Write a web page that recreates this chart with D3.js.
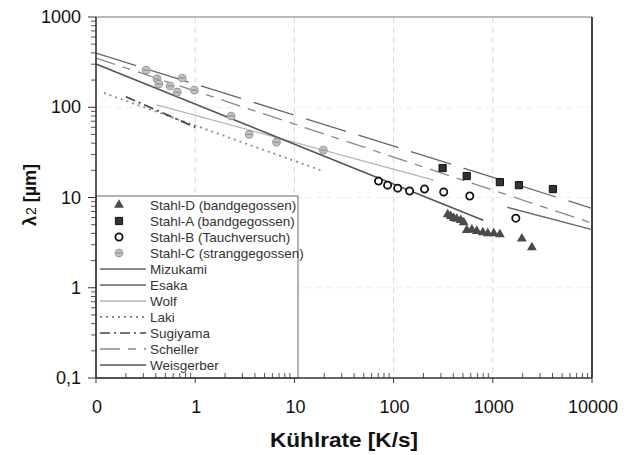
<!DOCTYPE html>
<html>
<head>
    <title>Kühlrate vs. Dendritenarmabstand</title>
    <script src="https://d3js.org/d3.v7.min.js"></script>
    <style>
        body, html {
            margin: 0;
            padding: 0;
            background: white;
            overflow: hidden;
        }
        svg {
            font-family: "Liberation Sans", Arial, sans-serif;
        }
        .tick-label {
            font-size: 18px;
            fill: #111;
        }
        .legend-text {
            font-size: 13.5px;
            fill: #333;
        }
    </style>
</head>
<body>
    <svg id="chart" width="633" height="455"></svg>

    <script>
        // measured points (cooling rate K/s, lambda2 in µm)
        const stahlD = [[351, 6.5], [377, 6.2], [404, 5.9], [433, 5.8], [475, 5.6], [509, 5.3],
                        [546, 4.35], [614, 4.4], [689, 4.25], [792, 4.1], [890, 4.0], [1023, 4.0],
                        [1178, 3.9], [1963, 3.5], [2477, 2.8]];
        const stahlA = [[312, 21.2], [546, 17.3], [1178, 14.8], [1833, 13.7], [4036, 12.4]];
        const stahlB = [[70.5, 15.2], [87, 13.7], [110, 12.7], [145, 11.8], [205, 12.4],
                        [320, 11.5], [586, 10.4], [1706, 5.9]];
        const stahlC = [[0.32, 258], [0.413, 206], [0.43, 181], [0.56, 172], [0.66, 147],
                        [0.74, 211], [0.98, 155], [2.3, 80], [3.5, 50], [6.6, 41], [19.6, 33.5]];

        // literature correlations (end points)
        const mizukami = [[0.1, 398], [10000, 7.6]];
        const esaka = [[1400, 7.8], [10000, 4.4]];
        const wolf = [[0.41, 106], [254, 15.6]];
        const laki = [[0.12, 144], [18.3, 20.1]];
        const sugiyama = [[0.2, 131], [1.0, 60]];
        const scheller = [[0.1, 351], [10000, 5.2]];
        const weisgerber = [[0.1, 301], [800, 5.6]];

        const xTicks = [0.1, 1, 10, 100, 1000, 10000];
        const xTickLabels = ["0", "1", "10", "100", "1000", "10000"];
        const yTicks = [0.1, 1, 10, 100, 1000];
        const yTickLabels = ["0,1", "1", "10", "100", "1000"];

        const lineSeries = [
            { name: "Mizukami", data: mizukami },
            { name: "Esaka", data: esaka },
            { name: "Wolf", data: wolf },
            { name: "Laki", data: laki },
            { name: "Sugiyama", data: sugiyama },
            { name: "Scheller", data: scheller },
            { name: "Weisgerber", data: weisgerber }
        ];
        const pointSeries = [
            { name: "Stahl-D (bandgegossen)", data: stahlD, kind: "tri" },
            { name: "Stahl-A (bandgegossen)", data: stahlA, kind: "sq" },
            { name: "Stahl-B (Tauchversuch)", data: stahlB, kind: "open" },
            { name: "Stahl-C (stranggegossen)", data: stahlC, kind: "grey" }
        ];

        // line styles
        const lineStyle = {
            "Mizukami":   { color: "#666", width: 1.3, dash: "42,13" },
            "Esaka":      { color: "#666", width: 1.4, dash: null },
            "Wolf":       { color: "#b5b5b5", width: 1.3, dash: null },
            "Laki":       { color: "#8a8a8a", width: 1.8, dash: "2,4" },
            "Sugiyama":   { color: "#444", width: 1.7, dash: "10,4,2,4" },
            "Scheller":   { color: "#888", width: 1.3, dash: "20,8,8,8" },
            "Weisgerber": { color: "#555", width: 1.6, dash: null }
        };

        const svg = d3.select("#chart");
        const mLeft = 96, mRight = 592, mTop = 17, mBottom = 378;

        const x = d3.scaleLog().domain([0.1, 10000]).range([mLeft, mRight]);
        const y = d3.scaleLog().domain([0.1, 1000]).range([mBottom, mTop]);

        // grid (very faint in the scan)
        const grid = svg.append("g");
        grid.selectAll(".vgrid")
            .data(xTicks.slice(1, -1))
            .enter().append("line")
            .attr("x1", d => x(d)).attr("x2", d => x(d))
            .attr("y1", mTop).attr("y2", mBottom)
            .attr("stroke", "#d8d8d8")
            .attr("stroke-dasharray", "6,4");
        grid.selectAll(".hgrid")
            .data(yTicks.slice(1, -1))
            .enter().append("line")
            .attr("x1", mLeft).attr("x2", mRight)
            .attr("y1", d => y(d)).attr("y2", d => y(d))
            .attr("stroke", "#eeeeee")
            .attr("stroke-dasharray", "6,4");

        // frame
        svg.append("line").attr("x1", mLeft).attr("x2", mRight).attr("y1", mTop).attr("y2", mTop)
            .attr("stroke", "#777").attr("stroke-width", 1.2);
        svg.append("line").attr("x1", mRight).attr("x2", mRight).attr("y1", mTop).attr("y2", mBottom)
            .attr("stroke", "#444").attr("stroke-width", 2);

        // tick labels
        svg.selectAll(".ylab")
            .data(yTicks)
            .enter().append("text")
            .attr("class", "tick-label")
            .attr("x", 81)
            .attr("y", d => y(d) + 6)
            .attr("text-anchor", "end")
            .text((d, i) => yTickLabels[i]);
        svg.selectAll(".xlab")
            .data(xTicks)
            .enter().append("text")
            .attr("class", "tick-label")
            .attr("x", d => x(d) + 1)
            .attr("y", 413)
            .attr("text-anchor", "middle")
            .text((d, i) => xTickLabels[i]);

        // axis titles
        svg.append("text")
            .attr("x", 344).attr("y", 447)
            .attr("text-anchor", "middle")
            .attr("font-weight", "bold")
            .attr("font-size", 20)
            .attr("fill", "#111")
            .attr("textLength", 148)
            .attr("lengthAdjust", "spacingAndGlyphs")
            .text("Kühlrate [K/s]");

        const yt = svg.append("text")
            .attr("transform", "translate(36,195) rotate(-90)")
            .attr("text-anchor", "middle")
            .attr("font-weight", "bold")
            .attr("font-size", 18)
            .attr("fill", "#111");
        yt.append("tspan").text("λ");
        yt.append("tspan").attr("font-size", 14).attr("font-weight", "normal").attr("dx", 1).text("2");
        yt.append("tspan").text(" [µm]");

        // lines
        const lineGen = d3.line().x(d => x(d[0])).y(d => y(d[1]));
        svg.selectAll(".corr")
            .data(lineSeries)
            .enter().append("path")
            .attr("d", d => lineGen(d.data))
            .attr("fill", "none")
            .attr("stroke", d => lineStyle[d.name].color)
            .attr("stroke-width", d => lineStyle[d.name].width)
            .attr("stroke-dasharray", d => lineStyle[d.name].dash);

        // markers
        function drawMarker(g, kind) {
            if (kind === "tri") {
                g.append("path").attr("d", d3.symbol().type(d3.symbolTriangle).size(42))
                    .attr("fill", "#4a4a4a");
            } else if (kind === "sq") {
                g.append("path").attr("d", d3.symbol().type(d3.symbolSquare).size(52))
                    .attr("fill", "#333").attr("stroke", "#111").attr("stroke-width", 1);
            } else if (kind === "open") {
                g.append("circle").attr("r", 3.6)
                    .attr("fill", "white").attr("stroke", "#111").attr("stroke-width", 1.8);
            } else {
                g.append("circle").attr("r", 3.8)
                    .attr("fill", "#c4c4c4").attr("stroke", "#999").attr("stroke-width", 1.1);
                g.append("line").attr("x1", -2.5).attr("x2", 2.5).attr("y1", 0).attr("y2", 0)
                    .attr("stroke", "#808080").attr("stroke-width", 1);
            }
        }

        pointSeries.forEach(s => {
            svg.selectAll(null)
                .data(s.data)
                .enter().append("g")
                .attr("transform", d => `translate(${x(d[0])},${y(d[1])})`)
                .each(function() { drawMarker(d3.select(this), s.kind); });
        });

        // legend
        const legend = svg.append("g");
        legend.append("rect")
            .attr("x", mLeft).attr("y", 196)
            .attr("width", 202).attr("height", mBottom - 196)
            .attr("fill", "white")
            .attr("stroke", "#666");

        const items = pointSeries.map(s => ({ name: s.name, kind: s.kind }))
            .concat(lineSeries.map(s => ({ name: s.name, kind: "line" })));

        items.forEach((it, i) => {
            const cy = 205 + i * 16;
            if (it.kind === "line") {
                const st = lineStyle[it.name];
                legend.append("line")
                    .attr("x1", 100).attr("x2", 146)
                    .attr("y1", cy).attr("y2", cy)
                    .attr("stroke", st.color)
                    .attr("stroke-width", st.width)
                    .attr("stroke-dasharray", it.name === "Mizukami" ? null : st.dash);
            } else {
                const g = legend.append("g").attr("transform", `translate(119,${cy})`);
                drawMarker(g, it.kind);
            }
            legend.append("text")
                .attr("class", "legend-text")
                .attr("x", 150)
                .attr("y", cy + 4.5)
                .text(it.name);
        });

        // ticks and axis lines on top of the legend
        const minors = (lo, hi) => {
            const out = [];
            for (let e = lo; e < hi; e++) {
                for (let m = 2; m <= 9; m++) out.push(m * Math.pow(10, e));
            }
            return out;
        };

        const axes = svg.append("g");
        axes.selectAll(".ymin")
            .data(minors(-1, 3))
            .enter().append("line")
            .attr("x1", mLeft - 5).attr("x2", mLeft)
            .attr("y1", d => y(d)).attr("y2", d => y(d))
            .attr("stroke", "#555");
        axes.selectAll(".ymaj")
            .data(yTicks)
            .enter().append("line")
            .attr("x1", mLeft - 8).attr("x2", mLeft)
            .attr("y1", d => y(d)).attr("y2", d => y(d))
            .attr("stroke", "#333");
        axes.selectAll(".xmin")
            .data(minors(-1, 4))
            .enter().append("line")
            .attr("x1", d => x(d)).attr("x2", d => x(d))
            .attr("y1", mBottom - 5).attr("y2", mBottom)
            .attr("stroke", "#555");
        axes.selectAll(".xmaj")
            .data(xTicks)
            .enter().append("line")
            .attr("x1", d => x(d)).attr("x2", d => x(d))
            .attr("y1", mBottom).attr("y2", mBottom + 5)
            .attr("stroke", "#333");

        svg.append("line").attr("x1", mLeft).attr("x2", mLeft).attr("y1", mTop).attr("y2", mBottom)
            .attr("stroke", "#333").attr("stroke-width", 1.6);
        svg.append("line").attr("x1", mLeft).attr("x2", mRight).attr("y1", mBottom).attr("y2", mBottom)
            .attr("stroke", "#333").attr("stroke-width", 1.6);
    </script>
</body>
</html>
